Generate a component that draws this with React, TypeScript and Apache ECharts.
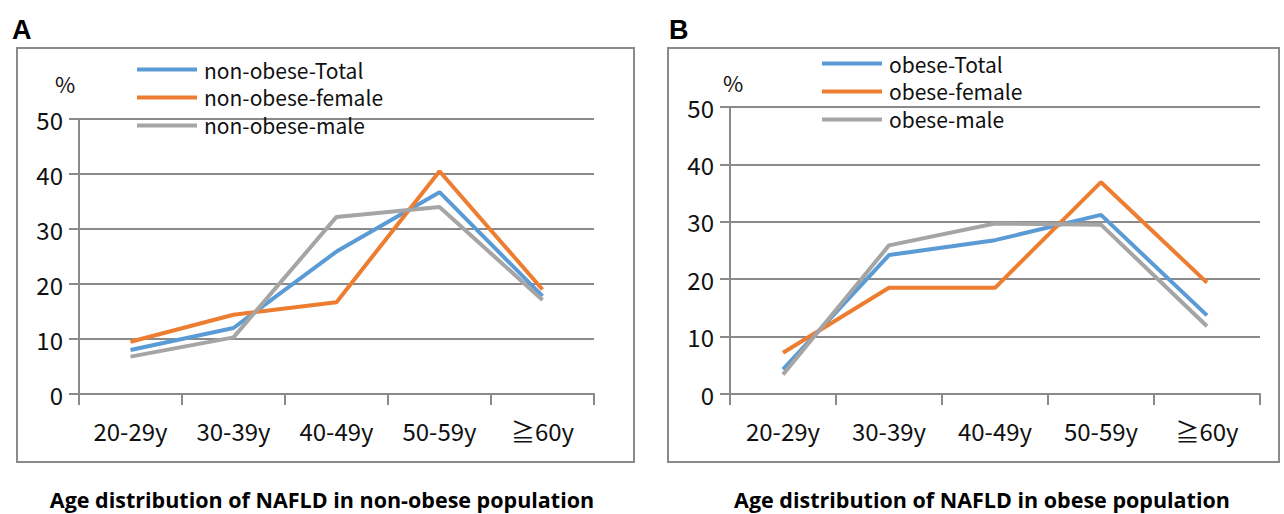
import React, { useEffect, useRef } from "react";
import * as echarts from "echarts";

const categories = ["20-29y", "30-39y", "40-49y", "50-59y", "≧60y"];

const nonObeseTotal = [8.0, 12.0, 25.9, 36.7, 17.8];
const nonObeseFemale = [9.5, 14.4, 16.7, 40.5, 19.0];
const nonObeseMale = [6.8, 10.3, 32.2, 34.0, 17.1];

const obeseTotal = [4.3, 24.2, 26.8, 31.2, 13.7];
const obeseFemale = [7.2, 18.5, 18.5, 36.9, 19.4];
const obeseMale = [3.4, 25.9, 29.7, 29.5, 11.8];

const namesA = ["non-obese-Total", "non-obese-female", "non-obese-male"];
const namesB = ["obese-Total", "obese-female", "obese-male"];
const colors = ["#5B9BD5", "#ED7D31", "#A5A5A5"];

const titleA = "Age distribution of NAFLD in non-obese population";
const titleB = "Age distribution of NAFLD in obese population";

const FONT = "'Noto Sans CJK KR', 'Noto Sans', sans-serif";

export default function App() {
  const ref = useRef<HTMLDivElement>(null);
  useEffect(() => {
    if (!ref.current) return;
    const chart = echarts.init(ref.current, undefined, { renderer: "svg" });
    const axisColor = "#8a8a8a";
    const makeX = (gridIndex: number) => ({
      type: "category",
      gridIndex,
      data: categories,
      boundaryGap: true,
      axisLine: { lineStyle: { color: axisColor, width: 2 } },
      axisTick: { show: true, length: 11, inside: false, lineStyle: { color: axisColor, width: 2 } },
      axisLabel: { color: "#111", fontSize: 24, fontFamily: FONT, margin: 24 },
      splitLine: { show: false },
    });
    const makeY = (gridIndex: number) => ({
      type: "value",
      gridIndex,
      min: 0,
      max: 50,
      interval: 10,
      axisLine: { show: true, lineStyle: { color: axisColor, width: 2 } },
      axisTick: { show: true, length: 10, lineStyle: { color: axisColor, width: 2 } },
      axisLabel: { color: "#111", fontSize: 24, fontFamily: FONT, margin: 16 },
      splitLine: { show: true, lineStyle: { color: axisColor, width: 2 } },
    });
    const mkSeries = (name: string, data: number[], idx: number, color: string) => ({
      name,
      type: "line",
      xAxisIndex: idx,
      yAxisIndex: idx,
      data,
      symbol: "none",
      lineStyle: { color, width: 4 },
      itemStyle: { color },
      z: 3,
    });
    const legendCommon = {
      orient: "vertical",
      icon: "rect",
      itemWidth: 60,
      itemHeight: 4,
      itemGap: 7,
      padding: 0,
      textStyle: { fontSize: 21, color: "#111", fontFamily: FONT, padding: [0, 0, 0, 2] },
      selectedMode: false,
    };
    chart.setOption({
      animation: false,
      backgroundColor: "#fff",
      grid: [
        { left: 79, right: 690, top: 119, bottom: 120, containLabel: false },
        { left: 730, right: 24, top: 107, bottom: 120, containLabel: false },
      ],
      xAxis: [makeX(0), makeX(1)],
      yAxis: [makeY(0), makeY(1)],
      legend: [
        { ...legendCommon, data: namesA, left: 137, top: 59 },
        { ...legendCommon, data: namesB, left: 822, top: 53 },
      ],
      series: [
        mkSeries(namesA[0], nonObeseTotal, 0, colors[0]),
        mkSeries(namesA[1], nonObeseFemale, 0, colors[1]),
        mkSeries(namesA[2], nonObeseMale, 0, colors[2]),
        mkSeries(namesB[0], obeseTotal, 1, colors[0]),
        mkSeries(namesB[1], obeseFemale, 1, colors[1]),
        mkSeries(namesB[2], obeseMale, 1, colors[2]),
      ],
      graphic: [
        { type: "rect", shape: { x: 17, y: 48, width: 617, height: 414 }, style: { fill: "none", stroke: axisColor, lineWidth: 2 }, z: 0 },
        { type: "rect", shape: { x: 668, y: 48, width: 611, height: 414 }, style: { fill: "none", stroke: axisColor, lineWidth: 2 }, z: 0 },
        { type: "text", x: 12, y: 16, style: { text: "A", fontSize: 27, fontWeight: "bold", fontFamily: "'Liberation Sans', Arial, sans-serif", fill: "#000" } },
        { type: "text", x: 669, y: 16, style: { text: "B", fontSize: 27, fontWeight: "bold", fontFamily: "'Liberation Sans', Arial, sans-serif", fill: "#000" } },
        { type: "text", x: 55, y: 72, style: { text: "%", fontSize: 22, fontFamily: FONT, fill: "#111" } },
        { type: "text", x: 723, y: 71, style: { text: "%", fontSize: 22, fontFamily: FONT, fill: "#111" } },
        { type: "text", x: 322, y: 499, style: { text: titleA, fontSize: 21.5, fontWeight: "bold", fontFamily: "'Open Sans', sans-serif", fill: "#000", align: "center", verticalAlign: "middle" } },
        { type: "text", x: 982, y: 499, style: { text: titleB, fontSize: 21.5, fontWeight: "bold", fontFamily: "'Open Sans', sans-serif", fill: "#000", align: "center", verticalAlign: "middle" } },
      ],
    });
    return () => chart.dispose();
  }, []);
  return (
    <div
      ref={ref}
      style={{ position: "fixed", left: 0, top: 0, width: 1284, height: 514 }}
    />
  );
}
